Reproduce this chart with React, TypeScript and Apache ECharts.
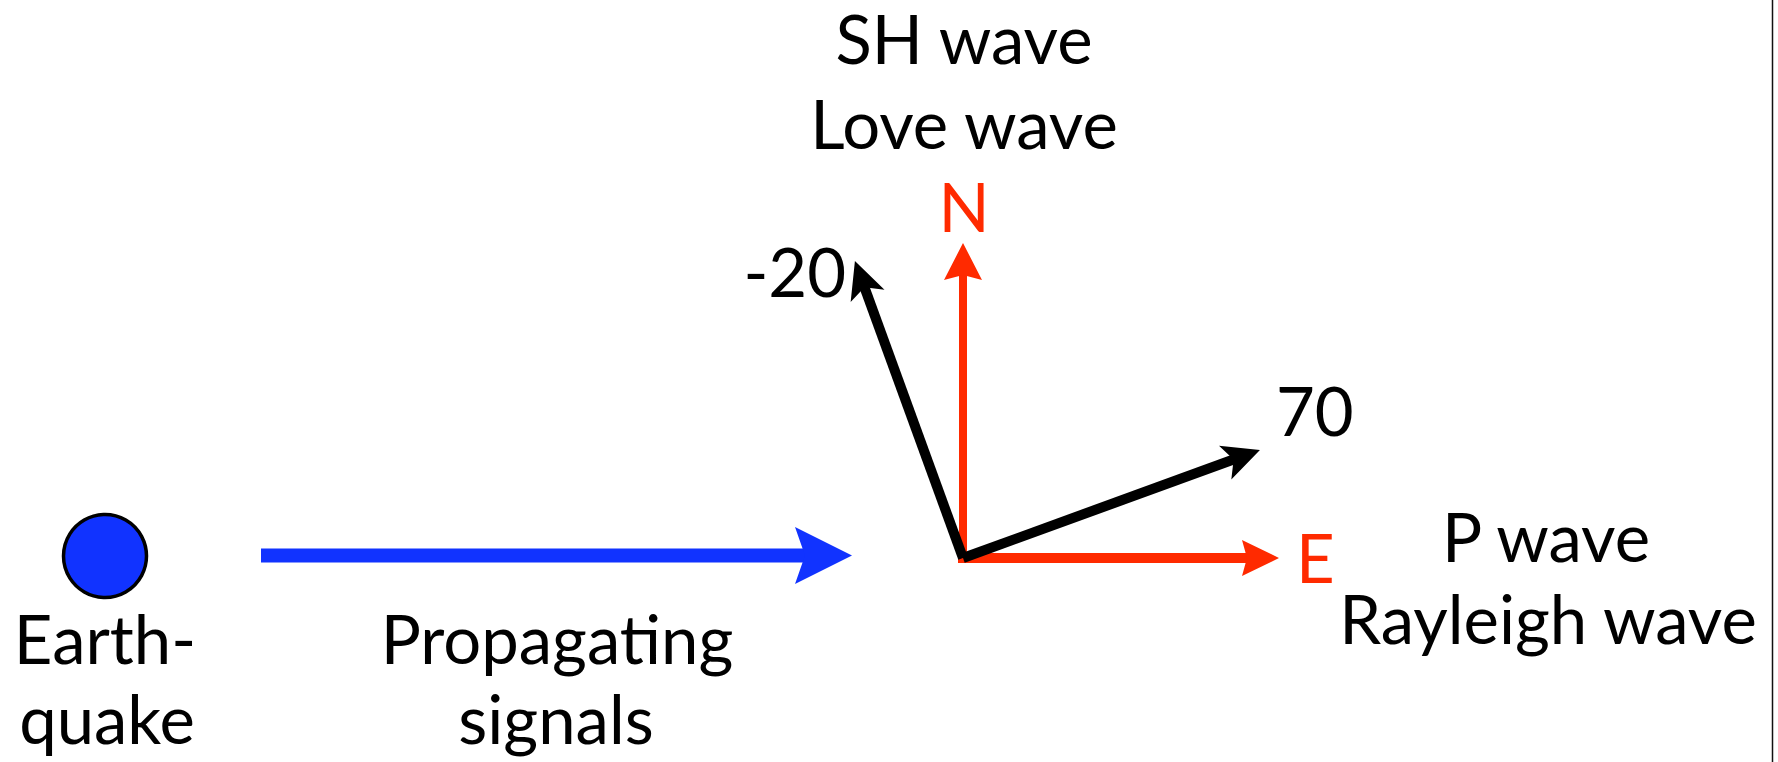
import React, { useEffect, useRef } from 'react';
import * as echarts from 'echarts';

const W = 1778;
const H = 762;

// Compass vectors at the station: azimuth (deg clockwise from North) and length
const vectorNames = ['N', 'E', '-20', '70'];
const vectorAzimuths = [0, 90, -20, 70];
const vectorLengths = [315, 316, 316, 316];
const compassOrigin = [963, 558];

// Earthquake source and propagation arrow
const sourcePoint = [105, 556];
const propagationStart = [261, 555.5];
const propagationEnd = [852, 555.5];

// Text labels
const labelTexts = [
  'SH wave', 'Love wave', 'N', '-20', '70', 'E',
  'P wave', 'Rayleigh wave', 'Earth-', 'quake', 'Propagating', 'signals',
];
// layout of the labels (x, baseline y, alignment)
const labelX = [964, 964, 964, 846, 1276, 1296, 1546, 1548, 105, 107, 557, 556];
const labelY = [63, 148, 231, 296, 435, 582, 561, 643, 663, 743, 663, 743];
const labelAlign = ['center', 'center', 'center', 'right', 'left', 'left', 'center', 'center', 'center', 'center', 'center', 'center'];
const labelRed = [false, false, true, false, false, true, false, false, false, false, false, false];

const RED = '#ff2a00';
const BLUE = '#1133ff';
const BLACK = '#000000';
const FONT = 'Lato, "Open Sans", sans-serif';
const FONT_SIZE = 67;

const arrowStyles = [
  { color: RED, width: 8, headLen: 37, half: 19, notch: 5, cap: 'square' },
  { color: RED, width: 10, headLen: 37, half: 18, notch: 5, cap: 'square' },
  { color: BLACK, width: 10, headLen: 37, half: 18, notch: 9, cap: 'butt' },
  { color: BLACK, width: 10, headLen: 37, half: 18, notch: 9, cap: 'butt' },
  { color: BLUE, width: 14, headLen: 57, half: 28.5, notch: 10, cap: 'butt' },
];

function buildArrowData() {
  const rows: number[][] = [];
  for (let i = 0; i < vectorNames.length; i++) {
    const a = (vectorAzimuths[i] * Math.PI) / 180;
    const x1 = compassOrigin[0] + vectorLengths[i] * Math.sin(a);
    const y1 = compassOrigin[1] - vectorLengths[i] * Math.cos(a);
    rows.push([compassOrigin[0], compassOrigin[1], x1, y1]);
  }
  rows.push([propagationStart[0], propagationStart[1], propagationEnd[0], propagationEnd[1]]);
  return rows;
}

export default function App() {
  const ref = useRef<HTMLDivElement>(null);
  useEffect(() => {
    if (!ref.current) return;
    const chart = echarts.init(ref.current, undefined, { renderer: 'svg' });
    const arrowData = buildArrowData();
    const labelData = labelTexts.map((t, i) => [labelX[i], labelY[i]]);
    chart.setOption({
      animation: false,
      backgroundColor: '#ffffff',
      grid: { left: 0, right: 0, top: 0, bottom: 0 },
      xAxis: { type: 'value', min: 0, max: W, show: false },
      yAxis: { type: 'value', min: 0, max: H, inverse: true, show: false },
      graphic: [
        {
          type: 'line',
          shape: { x1: 1772.5, y1: 0, x2: 1772.5, y2: H },
          style: { stroke: '#111', lineWidth: 1.5 },
        },
      ],
      series: [
        {
          type: 'scatter',
          data: [sourcePoint],
          symbol: 'circle',
          symbolSize: 83,
          itemStyle: { color: BLUE, borderColor: '#000', borderWidth: 3.5, opacity: 1 },
          z: 3,
        },
        {
          type: 'custom',
          data: arrowData,
          z: 2,
          renderItem: (params: any, api: any) => {
            const s = arrowStyles[params.dataIndex];
            const p0 = api.coord([api.value(0), api.value(1)]);
            const p1 = api.coord([api.value(2), api.value(3)]);
            const dx = p1[0] - p0[0];
            const dy = p1[1] - p0[1];
            const L = Math.hypot(dx, dy);
            const ux = dx / L;
            const uy = dy / L;
            const nx = -uy;
            const ny = ux;
            const bx = p1[0] - ux * s.headLen;
            const by = p1[1] - uy * s.headLen;
            const mx = bx + ux * s.notch;
            const my = by + uy * s.notch;
            return {
              type: 'group',
              children: [
                {
                  type: 'line',
                  shape: { x1: p0[0], y1: p0[1], x2: mx + ux * 2, y2: my + uy * 2 },
                  style: { stroke: s.color, lineWidth: s.width, lineCap: s.cap },
                },
                {
                  type: 'polygon',
                  shape: {
                    points: [
                      [p1[0], p1[1]],
                      [bx + nx * s.half, by + ny * s.half],
                      [mx, my],
                      [bx - nx * s.half, by - ny * s.half],
                    ],
                  },
                  style: { fill: s.color },
                },
              ],
            };
          },
        },
        {
          type: 'custom',
          data: labelData,
          z: 4,
          renderItem: (params: any, api: any) => {
            const i = params.dataIndex;
            const p = api.coord([api.value(0), api.value(1)]);
            return {
              type: 'text',
              x: p[0],
              y: p[1] - 25,
              style: {
                text: labelTexts[i],
                fill: labelRed[i] ? RED : BLACK,
                font: `${FONT_SIZE}px ${FONT}`,
                lineHeight: FONT_SIZE,
                align: labelAlign[i],
                verticalAlign: 'middle',
              },
            };
          },
        },
      ],
    });
    return () => chart.dispose();
  }, []);
  return (
    <div
      ref={ref}
      style={{ position: 'absolute', left: 0, top: 0, width: W, height: H, background: '#fff' }}
    />
  );
}
